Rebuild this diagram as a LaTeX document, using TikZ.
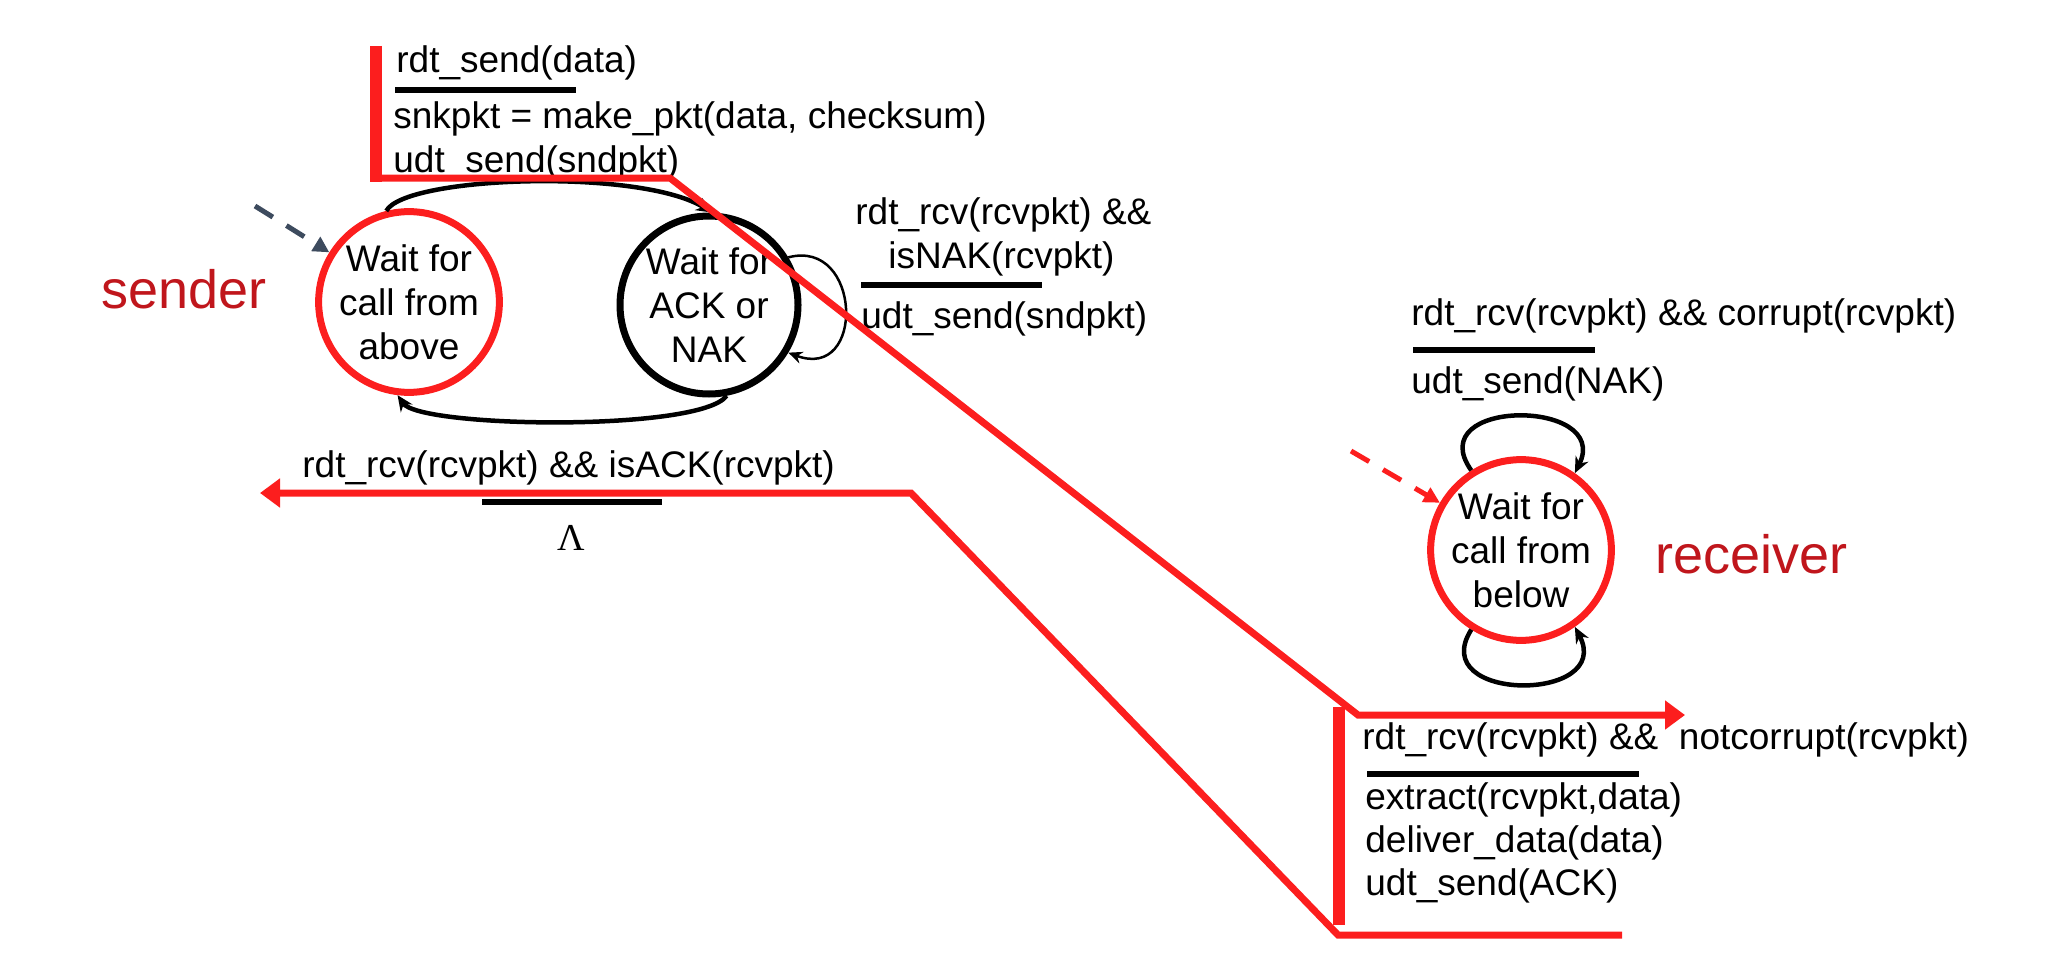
\documentclass[tikz,border=0pt]{standalone}
\usepackage{fontspec}
\setmainfont{Liberation Sans}
\newfontfamily\lamfont{Liberation Serif}
\usetikzlibrary{arrows.meta}
\definecolor{fsmred}{RGB}{252,30,30}
\definecolor{darkred}{RGB}{192,22,28}
\definecolor{slate}{RGB}{61,75,94}
\begin{document}
\begin{tikzpicture}[x=0.5pt,y=-0.5pt,
  state/.style={circle,line width=3.5pt,minimum size=89pt,inner sep=0pt,align=center,font=\fontsize{18.5}{22}\selectfont},
  lbl/.style={anchor=base west,inner sep=0pt,font=\fontsize{18.5}{22}\selectfont},
  side/.style={anchor=base west,inner sep=0pt,text=darkred,font=\fontsize{27}{32}\selectfont},
  bar/.style={line width=3pt},
  trans/.style={line width=2.25pt,-{Stealth[length=8pt,width=7pt]}},
  thinloop/.style={line width=1.25pt,-{Stealth[length=7pt,width=6pt]}},
  redpath/.style={draw=fsmred,line width=3.5pt},
  redbar/.style={draw=fsmred,line width=6pt},
  init/.style={line width=2.5pt,dash pattern=on 10.5pt off 8pt,-{Triangle[length=8pt,width=8pt]}}
]
\useasboundingbox (0,0) rectangle (2070,974);

% states
\node[state,draw=fsmred] (L) at (409,302) {Wait for\\call from\\above};
\node[state,draw=black] (R) at (709,305) {Wait for\\ACK or\\NAK};
\node[state,draw=fsmred,minimum size=90pt] (W) at (1521,550) {Wait for\\call from\\below};

% side labels
\node[side] (snd) at (101,308) {sender};
\node[side] (rcv) at (1655,573) {receiver};

% transitions
\draw[trans] (L.104) .. controls (405,176) and (640,168) .. (R.88);
\draw[trans] (R.-79) .. controls (700,432) and (420,428) .. (L.-97);
\draw[thinloop] (R.31) .. controls (862,238) and (866,382) .. (R.-31);
\draw[trans] (W.122) .. controls (1420,398) and (1612,398) .. (W.55);
\draw[trans] (W.-122) .. controls (1425,703) and (1615,703) .. (W.-55);

% initial arrows
\coordinate (si) at (255,206);
\draw[init,slate] (si) -- (L);
\coordinate (ri) at (1351,451);
\draw[init,fsmred] (ri) -- (W);

% labels
\node[lbl] (t1) at (396,73) {rdt\_send(data)};
\draw[bar] (395,90) -- (576,90);
\node[lbl] (a1) at (393,128) {snkpkt = make\_pkt(data, checksum)};
\node[lbl] (a2) at (393,172) {udt\_send(sndpkt)};

\node[lbl] (t2) at (855,224) {rdt\_rcv(rcvpkt) \&\&};
\node[lbl] (t2b) at (888,268) {isNAK(rcvpkt)};
\draw[bar] (861,285) -- (1042,285);
\node[lbl] (a3) at (861,328) {udt\_send(sndpkt)};

\node[lbl] (t3) at (302,477) {rdt\_rcv(rcvpkt) \&\& isACK(rcvpkt)};
\draw[bar] (482,502) -- (662,502);
\node[anchor=base,inner sep=0pt,font=\lamfont\fontsize{19}{22}\selectfont] (a4) at (571,550) {Λ};

\node[lbl] (t4) at (1411,325) {rdt\_rcv(rcvpkt) \&\& corrupt(rcvpkt)};
\draw[bar] (1413,350) -- (1595,350);
\node[lbl] (a5) at (1411,393) {udt\_send(NAK)};

\node[lbl] (t5) at (1362,749) {rdt\_rcv(rcvpkt) \&\&\ \ notcorrupt(rcvpkt)};
\draw[bar] (1367,774) -- (1639,774);
\node[lbl] (a6) at (1365,809) {extract(rcvpkt,data)};
\node[lbl] (a7) at (1365,852) {deliver\_data(data)};
\node[lbl] (a8) at (1365,895) {udt\_send(ACK)};

% red highlight paths
\coordinate (sb1) at (376,46);
\coordinate (sb2) at (376,182);
\draw[redbar] (sb1) -- (sb2);
\coordinate (sp1) at (376,178);
\coordinate (sp2) at (670,178);
\coordinate (sp3) at (1358,715);
\coordinate (sp4) at (1685,715);
\draw[redpath,-{Triangle[length=10pt,width=14pt]}] (sp1) -- (sp2) -- (sp3) -- (sp4);

\coordinate (rb1) at (1339,707);
\coordinate (rb2) at (1339,925);
\draw[redbar] (rb1) -- (rb2);
\coordinate (rp1) at (1622,935);
\coordinate (rp2) at (1338,935);
\coordinate (rp3) at (911,493);
\coordinate (rp4) at (260,493);
\draw[redpath,-{Triangle[length=10pt,width=14pt]}] (rp1) -- (rp2) -- (rp3) -- (rp4);
\end{tikzpicture}
\end{document}
